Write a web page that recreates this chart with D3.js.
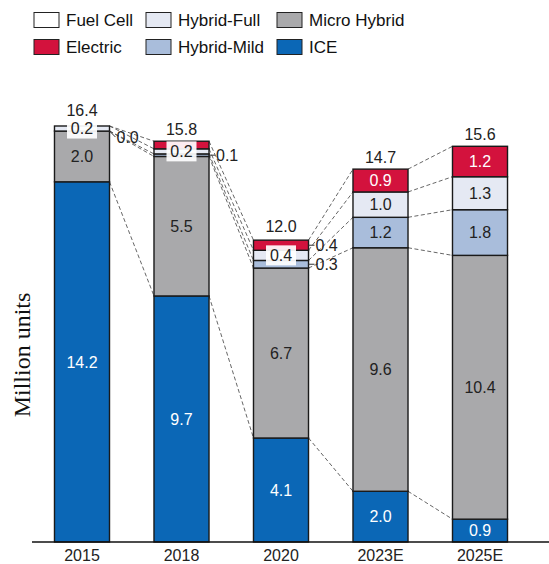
<!DOCTYPE html>
<html>
<head>
<meta charset="utf-8">
<script src="https://cdn.jsdelivr.net/npm/d3@7"></script>
<style>
  body { margin: 0; background: #fff; }
  svg { display: block; font-family: "Liberation Sans", Arial, sans-serif; }
</style>
</head>
<body>
<div id="chart"></div>
<script>
// data
const years = ["2015", "2018", "2020", "2023E", "2025E"];
const ice = [14.2, 9.7, 4.1, 2.0, 0.9];
const microHybrid = [2.0, 5.5, 6.7, 9.6, 10.4];
const hybridMild = [0.0, 0.1, 0.3, 1.2, 1.8];
const hybridFull = [0.2, 0.2, 0.4, 1.0, 1.3];
const electric = [0.0, 0.3, 0.4, 0.9, 1.2];
const fuelCell = [0.0, 0.0, 0.0, 0.0, 0.0];
const totals = [16.4, 15.8, 12.0, 14.7, 15.6];

// small segments: "box" = label in white box on the bar, "side" = label right of bar
const callouts = [
  { year: "2015", key: "full", mode: "box" },
  { year: "2015", key: "mild", mode: "side", dy: 6 },
  { year: "2018", key: "full", mode: "box" },
  { year: "2018", key: "mild", mode: "side" },
  { year: "2020", key: "full", mode: "box" },
  { year: "2020", key: "electric", mode: "side" },
  { year: "2020", key: "mild", mode: "side" }
];

const series = [
  { key: "ice", name: "ICE", values: ice, color: "#0b67b6", text: "#fff" },
  { key: "micro", name: "Micro Hybrid", values: microHybrid, color: "#a9a9ab", text: "#222" },
  { key: "mild", name: "Hybrid-Mild", values: hybridMild, color: "#a9bddb", text: "#222" },
  { key: "full", name: "Hybrid-Full", values: hybridFull, color: "#e5e9f3", text: "#222" },
  { key: "electric", name: "Electric", values: electric, color: "#d3123d", text: "#fff" },
  { key: "fuel", name: "Fuel Cell", values: fuelCell, color: "#ffffff", text: "#222" }
];

const width = 549, height = 564;
const svg = d3.select("#chart").append("svg")
  .attr("width", width)
  .attr("height", height);

const x = d3.scaleBand()
  .domain(years)
  .range([32, 530])
  .paddingInner(0.447)
  .paddingOuter(0.226);

const y = d3.scaleLinear()
  .domain([0, 16.4])
  .range([542, 126]);

// stack
const table = years.map((yr, i) => {
  const row = { year: yr };
  series.forEach(s => row[s.key] = s.values[i]);
  return row;
});
const stack = d3.stack().keys(series.map(s => s.key));
const stacked = stack(table);

// dashed connectors between neighbouring bars
const conn = svg.append("g");
stacked.slice(0, 5).forEach(layer => {
  for (let i = 0; i < years.length - 1; i++) {
    conn.append("line")
      .attr("x1", x(years[i]) + x.bandwidth())
      .attr("x2", x(years[i + 1]))
      .attr("y1", y(layer[i][1]))
      .attr("y2", y(layer[i + 1][1]))
      .attr("stroke", "#555")
      .attr("stroke-width", 0.9)
      .attr("stroke-dasharray", "4,2.5");
  }
});

// bars
const layers = svg.append("g").selectAll("g")
  .data(stacked)
  .join("g")
  .attr("fill", (d, i) => series[i].color);

layers.selectAll("rect")
  .data(d => d)
  .join("rect")
  .attr("x", d => x(d.data.year))
  .attr("width", x.bandwidth())
  .attr("y", d => y(d[1]))
  .attr("height", d => y(d[0]) - y(d[1]))
  .attr("stroke", "#1a1a1a")
  .attr("stroke-width", 1.4);

// inside labels for big segments
const labels = svg.append("g").attr("font-size", 16).attr("text-anchor", "middle");
stacked.forEach((layer, si) => {
  layer.forEach((d, i) => {
    const v = d[1] - d[0];
    if (v < 0.85) return;
    labels.append("text")
      .attr("x", x(years[i]) + x.bandwidth() / 2)
      .attr("y", y((d[0] + d[1]) / 2))
      .attr("dy", "0.35em")
      .attr("fill", series[si].text)
      .text(d3.format(".1f")(series[si].values[i]));
  });
});

// callouts for small segments
const boxTops = {};
callouts.forEach(c => {
  const i = years.indexOf(c.year);
  const si = series.findIndex(s => s.key === c.key);
  const d = stacked[si][i];
  const cy = y((d[0] + d[1]) / 2);
  const txt = d3.format(".1f")(series[si].values[i]);
  if (c.mode === "box") {
    const cx = x(c.year) + x.bandwidth() / 2;
    labels.append("rect")
      .attr("x", cx - 15).attr("y", cy - 10)
      .attr("width", 30).attr("height", 20)
      .attr("fill", "#fff").attr("fill-opacity", 0.92);
    labels.append("text")
      .attr("x", cx).attr("y", cy).attr("dy", "0.35em")
      .attr("fill", "#222").text(txt);
    boxTops[c.year] = cy - 10;
  } else {
    const x0 = x(c.year) + x.bandwidth();
    const ly = cy + (c.dy || 0);
    labels.append("path")
      .attr("d", `M${x0},${cy}L${x0 + 6},${ly}`)
      .attr("stroke", "#333").attr("stroke-width", 1).attr("fill", "none");
    labels.append("text")
      .attr("x", x0 + 7).attr("y", ly).attr("dy", "0.35em")
      .attr("text-anchor", "start")
      .attr("fill", "#222").text(txt);
  }
});

// totals
years.forEach((yr, i) => {
  let ty = y(totals[i]) - 6;
  if (boxTops[yr] !== undefined) ty = Math.min(ty, boxTops[yr] - 3);
  labels.append("text")
    .attr("x", x(yr) + x.bandwidth() / 2)
    .attr("y", ty)
    .attr("fill", "#222")
    .text(d3.format(".1f")(totals[i]));
});

// x axis
const xAxis = svg.append("g")
  .attr("transform", "translate(0,542)")
  .call(d3.axisBottom(x).tickSize(0).tickPadding(8));
xAxis.select(".domain").attr("d", "M32,0H549").attr("stroke", "#111").attr("stroke-width", 1.5);
xAxis.selectAll("text").attr("font-size", 16).attr("fill", "#222")
  .attr("font-family", "'Liberation Sans', Arial, sans-serif");

// y title
svg.append("text")
  .attr("transform", "translate(30,355) rotate(-90)")
  .attr("text-anchor", "middle")
  .attr("font-family", "'Liberation Serif', 'Times New Roman', serif")
  .attr("font-size", 24)
  .attr("fill", "#111")
  .text("Million units");

// legend
const legendOrder = ["fuel", "full", "micro", "electric", "mild", "ice"];
const colX = [34, 146, 277];
const rowY = [20, 47];
const legend = svg.append("g").attr("font-size", 17);
legendOrder.forEach((k, j) => {
  const s = series.find(d => d.key === k);
  const gx = colX[j % 3], gy = rowY[Math.floor(j / 3)];
  legend.append("rect")
    .attr("x", gx).attr("y", gy - 7.5)
    .attr("width", 25).attr("height", 15)
    .attr("fill", s.color)
    .attr("stroke", "#222").attr("stroke-width", 1);
  legend.append("text")
    .attr("x", gx + 32).attr("y", gy).attr("dy", "0.35em")
    .attr("fill", "#111")
    .text(s.name);
});
</script>
</body>
</html>
